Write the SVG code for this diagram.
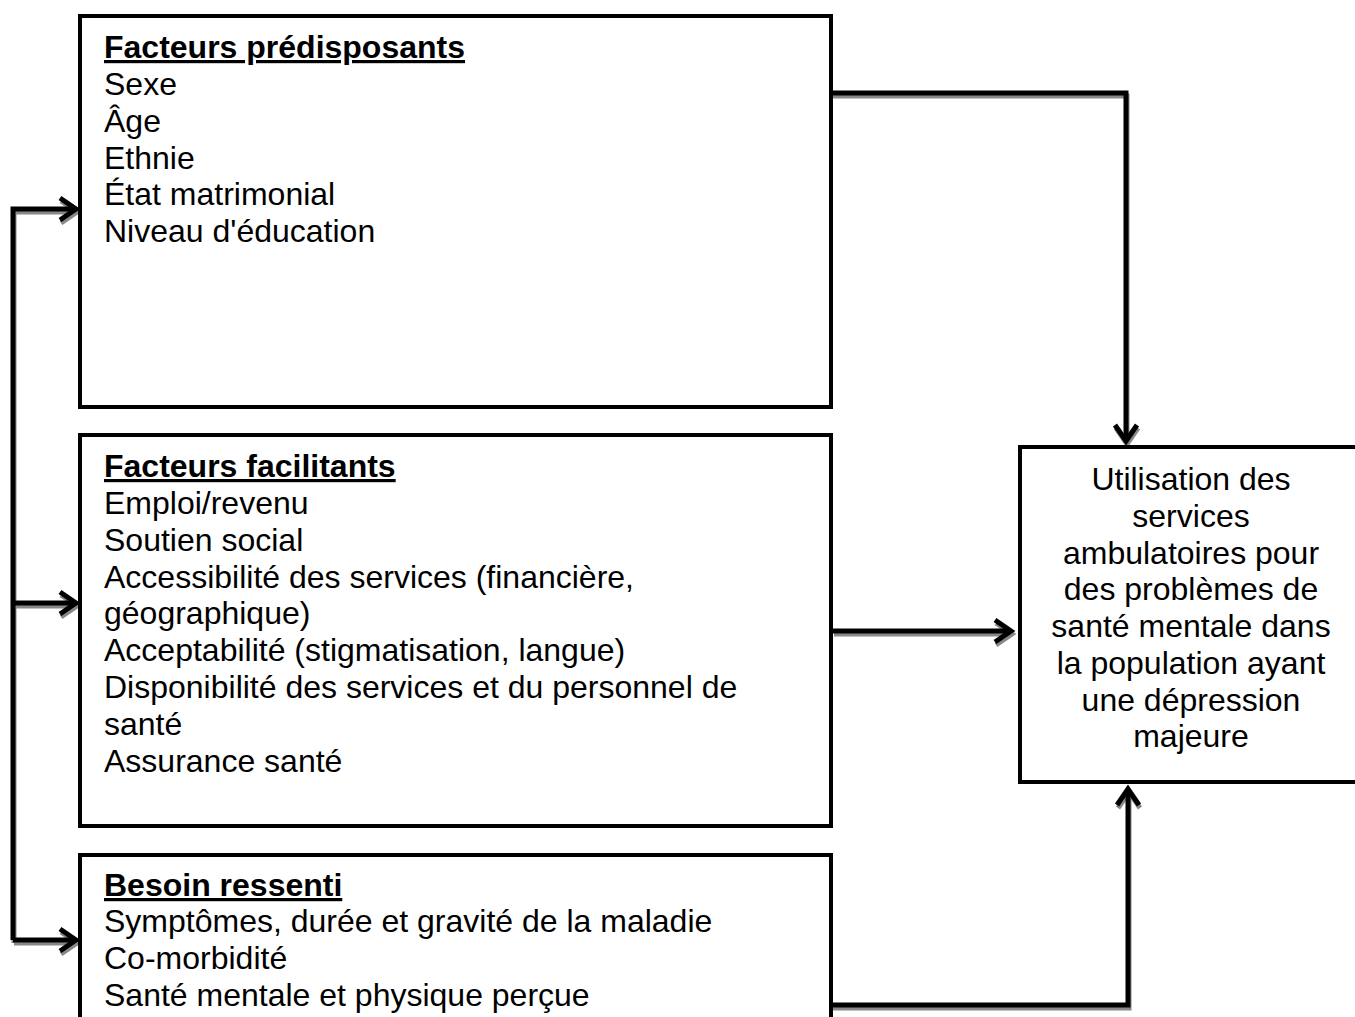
<svg xmlns="http://www.w3.org/2000/svg" xmlns:xlink="http://www.w3.org/1999/xlink" width="1355" height="1017" viewBox="0 0 1355 1017">
<style>
.box{fill:#fff;stroke:#000;stroke-width:4}
.t{font-family:"Liberation Sans",Arial,sans-serif;font-size:32px;fill:#000}
.h{font-weight:bold;text-decoration:underline}
.c{fill:none;stroke:#000;stroke-width:5;stroke-linejoin:miter}
.sh{fill:none;stroke:#888;stroke-width:5}
</style>
<defs>
<marker id="ah" markerUnits="userSpaceOnUse" markerWidth="30" markerHeight="30" refX="20" refY="15" orient="auto" viewBox="0 0 30 30">
<path d="M4,4 L20,15 L4,26" fill="none" stroke="#000" stroke-width="5"/>
</marker>
<marker id="ahs" markerUnits="userSpaceOnUse" markerWidth="30" markerHeight="30" refX="20" refY="15" orient="auto" viewBox="0 0 30 30">
<path d="M4,4 L20,15 L4,26" fill="none" stroke="#888" stroke-width="5"/>
</marker>
</defs>
<rect width="1355" height="1017" fill="#fff"/>
<g id="connectors">
<g transform="translate(1,3)">
<path class="sh" d="M826,93 H1126 V441" marker-end="url(#ahs)"/>
<path class="sh" d="M833,631 H1011" marker-end="url(#ahs)"/>
<path class="sh" d="M830,1005 H1128 V789" marker-end="url(#ahs)"/>
<path class="sh" d="M13,940 V209 H76" marker-end="url(#ahs)"/>
<path class="sh" d="M13,603 H76" marker-end="url(#ahs)"/>
<path class="sh" d="M13,940 H76" marker-end="url(#ahs)"/>
</g>
<path class="c" d="M826,93 H1126 V441" marker-end="url(#ah)"/>
<path class="c" d="M833,631 H1011" marker-end="url(#ah)"/>
<path class="c" d="M830,1005 H1128 V789" marker-end="url(#ah)"/>
<path class="c" d="M13,940 V209 H76" marker-end="url(#ah)"/>
<path class="c" d="M13,603 H76" marker-end="url(#ah)"/>
<path class="c" d="M13,940 H76" marker-end="url(#ah)"/>
</g>
<g id="predisposants">
<rect class="box" x="80" y="16" width="751" height="391"/>
<text class="t h" x="104" y="58">Facteurs prédisposants</text>
<text class="t" x="104" y="95">Sexe</text>
<text class="t" x="104" y="132">Âge</text>
<text class="t" x="104" y="169">Ethnie</text>
<text class="t" x="104" y="205">État matrimonial</text>
<text class="t" x="104" y="242">Niveau d'éducation</text>
</g>
<g id="facilitants">
<rect class="box" x="80" y="435" width="751" height="391"/>
<text class="t h" x="104" y="477">Facteurs facilitants</text>
<text class="t" x="104" y="514">Emploi/revenu</text>
<text class="t" x="104" y="551">Soutien social</text>
<text class="t" x="104" y="588">Accessibilité des services (financière,</text>
<text class="t" x="104" y="624">géographique)</text>
<text class="t" x="104" y="661">Acceptabilité (stigmatisation, langue)</text>
<text class="t" x="104" y="698">Disponibilité des services et du personnel de</text>
<text class="t" x="104" y="735">santé</text>
<text class="t" x="104" y="772">Assurance santé</text>
</g>
<g id="besoin">
<rect class="box" x="80" y="855" width="751" height="200"/>
<text class="t h" x="104" y="896">Besoin ressenti</text>
<text class="t" x="104" y="932">Symptômes, durée et gravité de la maladie</text>
<text class="t" x="104" y="969">Co-morbidité</text>
<text class="t" x="104" y="1006">Santé mentale et physique perçue</text>
</g>
<g id="utilisation">
<rect class="box" x="1020" y="447" width="360" height="335"/>
<text class="t" text-anchor="middle" x="1191" y="490">Utilisation des</text>
<text class="t" text-anchor="middle" x="1191" y="527">services</text>
<text class="t" text-anchor="middle" x="1191" y="564">ambulatoires pour</text>
<text class="t" text-anchor="middle" x="1191" y="600">des problèmes de</text>
<text class="t" text-anchor="middle" x="1191" y="637">santé mentale dans</text>
<text class="t" text-anchor="middle" x="1191" y="674">la population ayant</text>
<text class="t" text-anchor="middle" x="1191" y="711">une dépression</text>
<text class="t" text-anchor="middle" x="1191" y="747">majeure</text>
</g>
</svg>
